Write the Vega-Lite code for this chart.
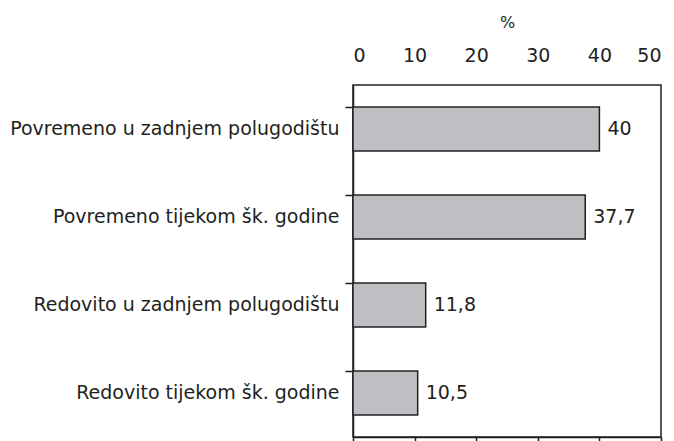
{
  "$schema": "https://vega.github.io/schema/vega-lite/v6.json",
  "autosize": "none",
  "width": 308,
  "height": 352,
  "padding": {"left": 353, "top": 85, "right": 13, "bottom": 4},
  "background": "white",
  "config": {
    "font": "DejaVu Sans",
    "view": {"stroke": "#231f20", "strokeWidth": 1.5},
    "axis": {"labelFont": "DejaVu Sans", "titleFont": "DejaVu Sans", "labelColor": "#231f20", "titleColor": "#231f20", "domainColor": "#231f20", "tickColor": "#231f20", "grid": false}
  },
  "data": {"values": [
    {"cat": "Povremeno u zadnjem polugodištu", "v": 40, "lab": "40"},
    {"cat": "Povremeno tijekom šk. godine", "v": 37.7, "lab": "37,7"},
    {"cat": "Redovito u zadnjem polugodištu", "v": 11.8, "lab": "11,8"},
    {"cat": "Redovito tijekom šk. godine", "v": 10.5, "lab": "10,5"}
  ]},
  "encoding": {
    "y": {"field": "cat", "type": "nominal", "sort": null,
      "scale": {"paddingInner": 0.5, "paddingOuter": 0.25},
      "axis": {"title": null, "orient": "left", "bandPosition": 0, "tickSize": 8, "tickWidth": 1.5, "domainWidth": 1.5, "labelFontSize": 19, "labelPadding": 6, "labelLimit": 400}}
  },
  "layer": [
    {
      "mark": {"type": "bar", "fill": "#bebfc2", "stroke": "#231f20", "strokeWidth": 1.5},
      "encoding": {
        "x": {"field": "v", "type": "quantitative", "scale": {"domain": [0, 50], "nice": false},
          "axis": {"orient": "top", "title": "%", "values": [0, 10, 20, 30, 40, 50], "ticks": false, "domain": false, "labelFontSize": 19, "labelPadding": 20, "titleFontSize": 16, "titleFontWeight": "normal", "titlePadding": 16}}
      }
    },
    {
      "mark": {"type": "text", "align": "left", "baseline": "middle", "dx": 8, "fontSize": 19, "color": "#231f20"},
      "encoding": {
        "x": {"field": "v", "type": "quantitative", "scale": {"domain": [0, 50], "nice": false},
          "axis": {"orient": "bottom", "title": null, "values": [0, 10, 20, 30, 40, 50], "labels": false, "tickSize": 5, "tickWidth": 1.5, "domainWidth": 1.5}},
        "text": {"field": "lab"}
      }
    }
  ],
  "resolve": {"axis": {"x": "independent"}}
}
